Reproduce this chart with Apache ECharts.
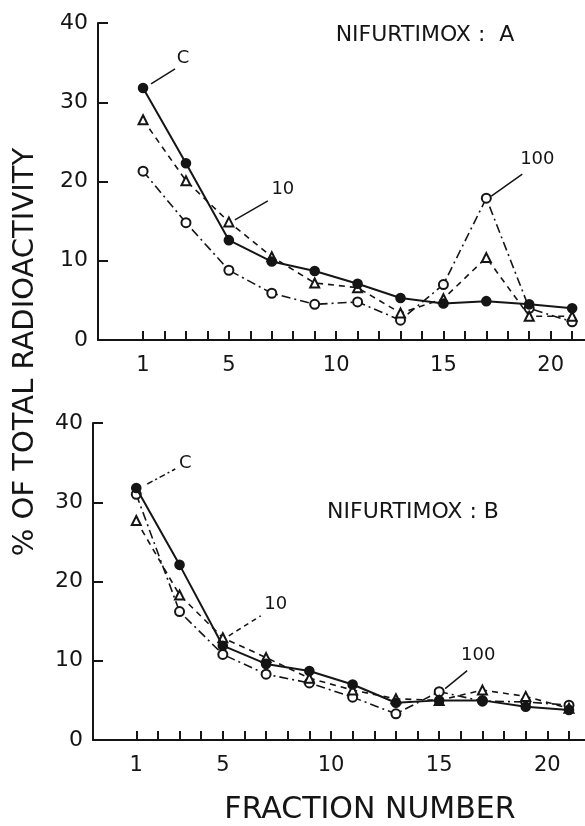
<!DOCTYPE html>
<html>
<head>
<meta charset="utf-8">
<script src="https://cdn.jsdelivr.net/npm/echarts@6/dist/echarts.min.js"></script>
<style>
html,body{margin:0;padding:0;background:#fff;}
#chart{width:585px;height:826px;}
</style>
</head>
<body>
<div id="chart"></div>
<script>
// ---- data ----
var fractions = [1, 3, 5, 7, 9, 11, 13, 15, 17, 19, 21];
var xTickValues = [1,2,3,4,5,6,7,8,9,10,11,12,13,14,15,16,17,18,19,20,21];
var xLabelValues = [1, 5, 10, 15, 20];
var yLabelValues = [0, 10, 20, 30, 40];

var A_control = [31.8, 22.3, 12.6, 9.9, 8.7, 7.1, 5.3, 4.6, 4.9, 4.5, 4.0];
var A_10      = [27.8, 20.1, 14.9, 10.5, 7.2, 6.6, 3.4, 5.2, 10.4, 3.0, 3.0];
var A_100     = [21.3, 14.8, 8.8, 5.9, 4.5, 4.8, 2.5, 7.0, 17.9, 4.0, 2.3];

var B_control = [31.8, 22.1, 11.9, 9.6, 8.7, 7.0, 4.7, 5.0, 5.0, 4.2, 3.8];
var B_10      = [27.7, 18.3, 12.9, 10.4, 7.8, 6.3, 5.2, 5.0, 6.3, 5.5, 4.0];
var B_100     = [31.0, 16.2, 10.8, 8.3, 7.2, 5.4, 3.3, 6.1, 4.9, 4.8, 4.4];

var panelTitles = ['NIFURTIMOX :  A', 'NIFURTIMOX : B'];
var yTitle = '% OF TOTAL RADIOACTIVITY';
var xTitle = 'FRACTION NUMBER';

// ---- chart ----
var INK = '#151515';
var FONT = 'DejaVu Sans';

function pairs(vals) { return fractions.map(function (f, i) { return [f, vals[i]]; }); }

function xAxis(gi, min, max) {
  return {
    type: 'value', gridIndex: gi, min: min, max: max,
    splitLine: { show: false },
    axisLine: { show: true, onZero: false, lineStyle: { color: INK, width: 2 } },
    axisTick: { show: true, inside: true, length: 9, customValues: xTickValues, lineStyle: { color: INK, width: 2 } },
    axisLabel: { customValues: xLabelValues, margin: 15, color: INK, fontSize: 21, fontFamily: FONT }
  };
}
function yAxis(gi) {
  return {
    type: 'value', gridIndex: gi, min: 0, max: 40, interval: 10,
    splitLine: { show: false },
    axisLine: { show: true, onZero: false, lineStyle: { color: INK, width: 2 } },
    axisTick: { show: true, inside: true, length: 10, customValues: [10, 20, 30, 40], lineStyle: { color: INK, width: 2 } },
    axisLabel: { customValues: yLabelValues, margin: 10, color: INK, fontSize: 22, fontFamily: FONT }
  };
}
function ser(gi, vals, kind) {
  var s = {
    type: 'line', xAxisIndex: gi, yAxisIndex: gi, data: pairs(vals),
    animation: false, silent: true, symbolSize: 9,
    lineStyle: { color: INK, width: 1.6 },
    itemStyle: { color: INK, borderColor: INK, borderWidth: 1.6 }
  };
  if (kind === 'C') { s.symbol = 'circle'; s.lineStyle.width = 2; s.z = 5; }
  else if (kind === '10') { s.symbol = 'emptyTriangle'; s.lineStyle.type = [6, 5]; s.z = 4; }
  else { s.symbol = 'emptyCircle'; s.symbolSize = 9; s.lineStyle.type = [9, 4, 2, 4]; s.z = 3; }
  return s;
}

var chart = echarts.init(document.getElementById('chart'), null, { renderer: 'canvas' });
chart.setOption({
  backgroundColor: '#fff',
  animation: false,
  grid: [
    { left: 98, right: 0, top: 23, height: 317 },
    { left: 93, right: 0, top: 423, height: 317 }
  ],
  xAxis: [xAxis(0, -1.1, 21.6), xAxis(1, -1, 21.74)],
  yAxis: [yAxis(0), yAxis(1)],
  series: [
    ser(0, A_100, '100'), ser(0, A_10, '10'), ser(0, A_control, 'C'),
    ser(1, B_100, '100'), ser(1, B_10, '10'), ser(1, B_control, 'C')
  ]
});

function px(gi, x, y) { return chart.convertToPixel({ gridIndex: gi }, [x, y]); }

var graphics = [];
function annot(gi, x, y, text, s, e, t, dash) {
  var p = px(gi, x, y);
  graphics.push({
    type: 'line', silent: true,
    shape: { x1: p[0] + s[0], y1: p[1] + s[1], x2: p[0] + e[0], y2: p[1] + e[1] },
    style: { stroke: INK, lineWidth: 1.5, lineDash: dash || null }
  });
  graphics.push({
    type: 'text', silent: true, x: p[0] + t[0], y: p[1] + t[1],
    style: { text: text, fill: INK, font: '18px "' + FONT + '"', align: 'center', verticalAlign: 'middle' }
  });
}
// top panel labels
annot(0, 1, A_control[0], 'C', [8, -4], [32, -19], [40, -30]);
annot(0, 5, A_10[2], '10', [6, -2], [39, -21], [54, -33]);
annot(0, 17, A_100[8], '100', [5, -2], [36, -24], [51, -39]);
// bottom panel labels
annot(1, 1, B_control[0], 'C', [11, -4], [39, -19], [49, -25], [6, 3, 2, 3]);
annot(1, 5, B_10[2], '10', [6, -2], [38, -22], [53, -33], [5, 4]);
annot(1, 15, B_100[7], '100', [6, -3], [28, -21], [39, -36]);

graphics.push({
  type: 'text', silent: true, x: 425, y: 35,
  style: { text: panelTitles[0], fill: INK, font: '22px "' + FONT + '"', align: 'center', verticalAlign: 'middle' }
});
graphics.push({
  type: 'text', silent: true, x: 413, y: 512,
  style: { text: panelTitles[1], fill: INK, font: '22px "' + FONT + '"', align: 'center', verticalAlign: 'middle' }
});
graphics.push({
  type: 'text', silent: true, x: 25, y: 352, rotation: Math.PI / 2,
  style: { text: yTitle, fill: INK, font: '29px "' + FONT + '"', align: 'center', verticalAlign: 'middle' }
});
graphics.push({
  type: 'text', silent: true, x: 370, y: 810,
  style: { text: xTitle, fill: INK, font: '30px "' + FONT + '"', align: 'center', verticalAlign: 'middle' }
});
chart.setOption({ graphic: graphics });
</script>
</body>
</html>
